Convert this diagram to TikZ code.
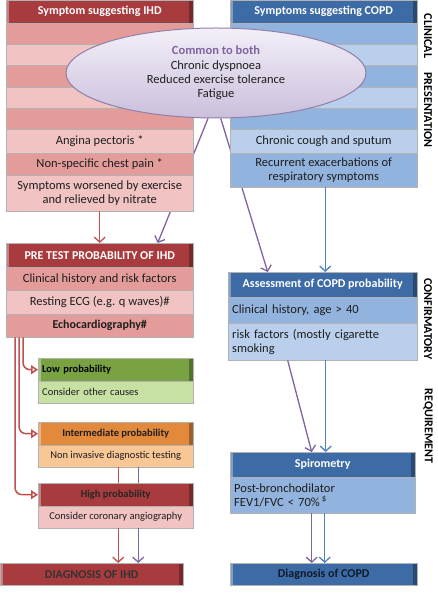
\documentclass[tikz,border=0pt]{standalone}
\usepackage{fontspec}
\setmainfont{Carlito}
\usetikzlibrary{arrows.meta}
\usetikzlibrary{shapes.geometric}
\pgfdeclarelayer{bg}
\pgfsetlayers{bg,main}

\definecolor{ihdD}{HTML}{A83B3D}
\definecolor{ihdA}{HTML}{E49C9B}
\definecolor{ihdB}{HTML}{F1C3C2}
\definecolor{copdD}{HTML}{3D6BA5}
\definecolor{copdA}{HTML}{92B3DD}
\definecolor{copdB}{HTML}{B9CFEC}
\definecolor{lowD}{HTML}{79A343}
\definecolor{lowB}{HTML}{C7E0A4}
\definecolor{intD}{HTML}{E2893C}
\definecolor{intB}{HTML}{F9C696}
\definecolor{ellT}{HTML}{F3EFF8}
\definecolor{ellD}{HTML}{CBBFDC}
\definecolor{ellB}{HTML}{8E80A8}
\definecolor{ired}{HTML}{C0504D}
\definecolor{ipur}{HTML}{8064A2}
\definecolor{iblu}{HTML}{4F81BD}
\definecolor{txt}{HTML}{1E1E1E}

\begin{document}
\begin{tikzpicture}[x=1pt,y=-1pt,
	row/.style={anchor=north west,minimum width=187pt,inner sep=1pt,align=center,
		draw=white!70!black,line width=.4pt,text=txt,font=\fontsize{12.5}{14}\selectfont},
	hdr/.style={row,text=white,font=\bfseries\fontsize{12}{14}\selectfont,
		path picture={\fill[black,opacity=.3] ([xshift=-4pt]path picture bounding box.north east) rectangle (path picture bounding box.south east);
			\fill[white,opacity=.35] (path picture bounding box.north west) rectangle ([xshift=3pt]path picture bounding box.south west);}},
	prob/.style={minimum width=155pt,font=\fontsize{10.5}{12}\selectfont},
	probh/.style={minimum width=155pt,font=\bfseries\fontsize{10.5}{12}\selectfont},
	lft/.style={text width=#1,align=left},
	arr/.style={line width=1.3pt,-{Straight Barb[length=5pt,width=11pt]}},
	bra/.style={draw=ired,line width=1.5pt,rounded corners=7pt,-{Triangle[open,length=7pt,width=9pt]}},
	vlab/.style={rotate=-90,font=\bfseries\fontsize{12}{14}\selectfont}]
\begin{pgfonlayer}{bg}
\fill[white] (0,0) rectangle (437,593);
\end{pgfonlayer}
\useasboundingbox (0,0) rectangle (437,593);

% clinical presentation, IHD
\node[hdr,fill=ihdD,minimum height=23pt] (IHD) at (6,0) {Symptom suggesting IHD};
\node[row,fill=ihdA,minimum height=21pt] (L1) at (6,23) {};
\node[row,fill=ihdB,minimum height=21pt] (L2) at (6,44) {};
\node[row,fill=ihdA,minimum height=22pt] (L3) at (6,65) {};
\node[row,fill=ihdB,minimum height=21pt] (L4) at (6,87) {};
\node[row,fill=ihdA,minimum height=21pt] (L5) at (6,108) {};
\node[row,fill=ihdB,minimum height=24pt] (AP) at (6,129) {Angina pectoris *};
\node[row,fill=ihdA,minimum height=22pt] (NC) at (6,153) {Non-specific chest pain *};
\node[row,fill=ihdB,minimum height=36pt] (SW) at (6,175) {Symptoms worsened by exercise\\and relieved by nitrate};

% clinical presentation, COPD
\node[hdr,fill=copdD,minimum height=23pt] (COPD) at (230,0) {Symptoms suggesting COPD};
\node[row,fill=copdA,minimum height=21pt] (R1) at (230,23) {};
\node[row,fill=copdB,minimum height=21pt] (R2) at (230,44) {};
\node[row,fill=copdA,minimum height=22pt] (R3) at (230,65) {};
\node[row,fill=copdB,minimum height=21pt] (R4) at (230,87) {};
\node[row,fill=copdA,minimum height=21pt] (R5) at (230,108) {};
\node[row,fill=copdB,minimum height=24pt] (CC) at (230,129) {Chronic cough and sputum};
\node[row,fill=copdA,minimum height=34pt] (RE) at (230,153) {Recurrent exacerbations of\\respiratory symptoms};

\node[ellipse,draw=ellB,line width=1pt,top color=ellT,bottom color=ellD,minimum width=300pt,minimum height=90pt,
	inner sep=0pt,align=center,text=txt,font=\fontsize{12.5}{14.4}\selectfont] (E) at (216,73)
	{\textcolor{ipur}{\textbf{Common to both}}\\Chronic dyspnoea\\Reduced exercise tolerance\\Fatigue};

% pre test probability
\node[hdr,fill=ihdD,minimum height=24pt] (PT) at (6,243) {PRE TEST PROBABILITY OF IHD};
\node[row,fill=ihdA,minimum height=23pt] (P1) at (6,267) {Clinical history and risk factors};
\node[row,fill=ihdB,minimum height=24pt] (P2) at (6,290) {Resting ECG (e.g. q waves)\#};
\node[row,fill=ihdA,minimum height=23pt,font=\bfseries\fontsize{12}{13}\selectfont] (P3) at (6,314) {Echocardiography\#};

\node[hdr,probh,fill=lowD,minimum height=23pt,text=black,lft=147pt] (LP) at (38,358) {Low probability};
\node[row,prob,fill=lowB,minimum height=22pt,lft=147pt] (LB) at (38,381) {Consider other causes};
\node[hdr,probh,fill=intD,minimum height=23pt,text=txt] (IP) at (38,422) {Intermediate probability};
\node[row,prob,fill=intB,minimum height=22pt] (IB) at (38,445) {Non invasive diagnostic testing};
\node[hdr,probh,fill=ihdD,minimum height=23pt,text=black!85] (HP) at (38,483) {High probability};
\node[row,prob,fill=ihdB,minimum height=22pt] (HB) at (38,506) {Consider coronary angiography};
\node[hdr,fill=ihdD,minimum width=183pt,minimum height=22pt,text=black!80] (DI) at (0,563) {DIAGNOSIS OF IHD};

% COPD side
\node[hdr,fill=copdD,minimum width=189pt,minimum height=25pt] (AS) at (228,272) {Assessment of COPD probability};
\node[row,fill=copdA,minimum width=189pt,minimum height=26pt,lft=181pt] (A1) at (228,297) {Clinical history, age > 40};
\node[row,fill=copdB,minimum width=189pt,minimum height=37pt,lft=181pt] (A2) at (228,323) {risk factors (mostly cigarette\\smoking};
\node[hdr,fill=copdD,minimum width=185pt,minimum height=25pt] (SP) at (230,452) {Spirometry};
\node[row,fill=copdA,minimum width=185pt,minimum height=36pt,lft=177pt] (SB) at (230,477) {Post-bronchodilator\\FEV1/FVC < 70\%\,\textsuperscript{\$}};
\node[hdr,fill=copdD,minimum height=22pt,text=black!75!copdD] (DC) at (230,563) {Diagnosis of COPD};

% side labels
\node[vlab] (T1) at (428,36) {CLINICAL};
\node[vlab] (T2) at (428,110) {PRESENTATION};
\node[vlab] (T3) at (428,319) {CONFIRMATORY};
\node[vlab] (T4) at (428,426) {REQUIREMENT};

% connectors
\begin{pgfonlayer}{bg}
\draw[arr,ipur] (E.260) -- ([xshift=58pt]PT.north);
\draw[arr,ipur] (E.276) -- ([xshift=-55pt]AS.north);
\end{pgfonlayer}
\draw[arr,ired] (SW.south) -- (SW.south |- PT.north);
\draw[arr,iblu] ([xshift=1.5pt]RE.south) -- ([xshift=1.5pt]RE.south |- AS.north);
\draw[arr,ipur] ([xshift=-35pt]A2.south) -- ([xshift=-11pt]SP.north);
\draw[arr,iblu] ([xshift=3pt]A2.south) -- ([xshift=3pt]A2.south |- SP.north);
\draw[arr,ipur] ([xshift=-11pt]SB.south) -- ([xshift=-11pt]SB.south |- DC.north);
\draw[arr,iblu] ([xshift=2pt]SB.south) -- ([xshift=2pt]SB.south |- DC.north);

\draw[bra] ([xshift=17pt]P3.south west) |- (LP.west);
\draw[bra] ([xshift=13pt]P3.south west) |- (IP.west);
\draw[bra] ([xshift=9pt]P3.south west) |- (HP.west);

\draw[ired,line width=1.3pt] ([xshift=2.5pt]IB.south) -- ([xshift=2.5pt]IB.south |- HP.north);
\draw[ipur,line width=1.3pt] ([xshift=22.5pt]IB.south) -- ([xshift=22.5pt]IB.south |- HP.north);
\draw[arr,ired] ([xshift=2.5pt]HB.south) -- ([xshift=2.5pt]HB.south |- DI.north);
\draw[arr,ipur] ([xshift=22.5pt]HB.south) -- ([xshift=22.5pt]HB.south |- DI.north);

\end{tikzpicture}
\end{document}
